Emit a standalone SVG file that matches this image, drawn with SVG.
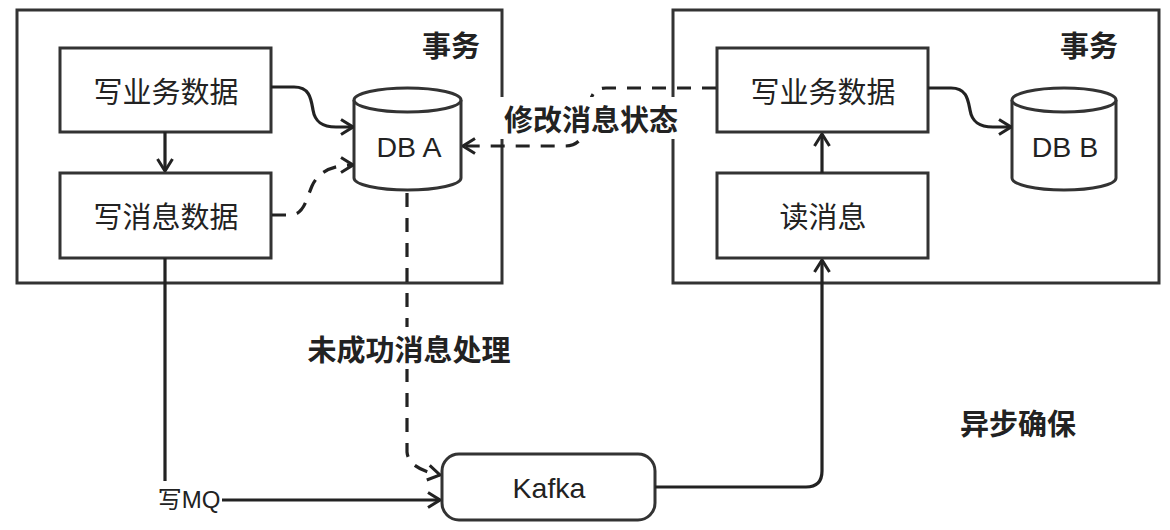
<svg xmlns="http://www.w3.org/2000/svg" width="1170" height="530" viewBox="0 0 1170 530">
<defs>
<style>
.frame{fill:#fff;stroke:#333;stroke-width:3}
.box{fill:#fff;stroke:#333;stroke-width:3}
.lbl{font-family:"Noto Sans CJK SC","Liberation Sans",sans-serif;font-size:29px;fill:#222;text-anchor:middle;dominant-baseline:central}
.ttl{font-family:"Noto Sans CJK SC","Liberation Sans",sans-serif;font-size:29px;font-weight:bold;fill:#222;text-anchor:middle;dominant-baseline:central}
.lat{font-family:"Liberation Sans","Noto Sans CJK SC",sans-serif;font-size:28.5px;fill:#222;text-anchor:middle;dominant-baseline:central}
.ln{fill:none;stroke:#222;stroke-width:3.2;stroke-linejoin:round}
.dash{stroke-dasharray:14 11}
</style>
<marker id="ah" viewBox="0 0 14 18" refX="13" refY="9" markerWidth="14" markerHeight="18" markerUnits="userSpaceOnUse" orient="auto">
<path d="M1,1.5 L13,9 L1,16.5" fill="none" stroke="#222" stroke-width="3" stroke-linejoin="miter"/>
</marker>
</defs>
<rect width="1170" height="530" fill="#fff"/>

<g id="txA">
<rect class="frame" x="17" y="10" width="485" height="273"/>
<text class="ttl" x="451" y="44">事务</text>
</g>
<g id="txB">
<rect class="frame" x="673" y="10" width="486" height="273"/>
<text class="ttl" x="1089" y="44">事务</text>
</g>

<g id="writeBizA">
<rect class="box" x="60" y="48" width="211" height="84"/>
<text class="lbl" x="166" y="90">写业务数据</text>
</g>
<g id="writeMsgA">
<rect class="box" x="60" y="173" width="211" height="85"/>
<text class="lbl" x="166" y="215">写消息数据</text>
</g>
<g id="dbA">
<path class="box" d="M354,100 A53.5,12 0 0 1 461,100 L461,178 A53.5,12 0 0 1 354,178 Z"/>
<path class="box" d="M354,100 A53.5,12 0 0 0 461,100"/>
<text class="lat" x="409" y="147">DB A</text>
</g>

<g id="writeBizB">
<rect class="box" x="717" y="48" width="211" height="84"/>
<text class="lbl" x="823" y="90">写业务数据</text>
</g>
<g id="readMsg">
<rect class="box" x="717" y="173" width="211" height="85"/>
<text class="lbl" x="823" y="215">读消息</text>
</g>
<g id="dbB">
<path class="box" d="M1012,100 A52,12 0 0 1 1116,100 L1116,178 A52,12 0 0 1 1012,178 Z"/>
<path class="box" d="M1012,100 A52,12 0 0 0 1116,100"/>
<text class="lat" x="1065" y="147">DB B</text>
</g>

<g id="kafka">
<rect class="box" x="442" y="454" width="213" height="66" rx="17"/>
<text class="lat" x="549" y="488">Kafka</text>
</g>

<g id="connectors">
<path class="ln" d="M165,132 L165,171" marker-end="url(#ah)"/>
<path class="ln" d="M271,87 L294,87 C310,87 311,99 313,110 C315,122 322,127 336,127 L353,127" marker-end="url(#ah)"/>
<path class="ln dash" d="M272,215 L290,215 C304,215 306,200 312,186 C318,173 330,165 353,165" marker-end="url(#ah)"/>
<path class="ln dash" d="M716,88 L606,88 C591,88 590,100 588,115 C586,135 580,146 565,146 L463,146" marker-end="url(#ah)"/>
<path class="ln dash" d="M407,193 L407,452 C408,464 420,471 440,475" marker-end="url(#ah)"/>
<path class="ln" d="M165,258 L165,481"/>
<path class="ln" d="M222,500 L440,500" marker-end="url(#ah)"/>
<path class="ln" d="M655,487 L806,487 Q822,487 822,471 L822,260" marker-end="url(#ah)"/>
<path class="ln" d="M822,173 L822,134" marker-end="url(#ah)"/>
<path class="ln" d="M928,88 L951,88 C967,88 968,100 970,110 C972,122 979,127 993,127 L1011,127" marker-end="url(#ah)"/>
</g>

<g id="labels">
<rect x="497" y="97" width="184" height="42" fill="#fff"/>
<text class="ttl" x="591" y="118">修改消息状态</text>
<rect x="302" y="327" width="214" height="42" fill="#fff"/>
<text class="ttl" x="409" y="348">未成功消息处理</text>
<text class="lat" x="189" y="499" style="font-size:24px">写MQ</text>
<text class="ttl" x="1018" y="422">异步确保</text>
</g>
</svg>
